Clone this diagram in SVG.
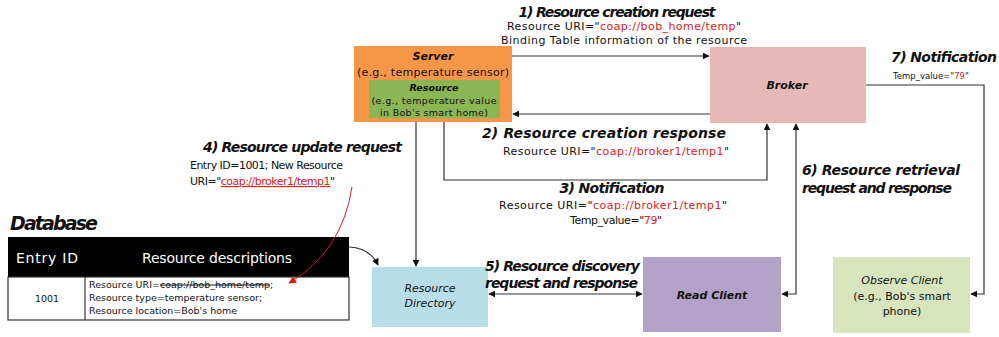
<svg xmlns="http://www.w3.org/2000/svg" width="999" height="337" viewBox="0 0 999 337">
<style>
text{font-family:"DejaVu Sans","Liberation Sans",sans-serif;fill:#111}
.h{font-weight:bold;font-style:italic;font-size:14px}
.t{font-size:11px}
.s{font-size:9.5px}
.bi{font-weight:bold;font-style:italic;font-size:11px}
.i{font-style:italic;font-size:11px}
.r{fill:#e02020}
.c{fill:none;stroke:#333;stroke-width:1.2}
</style>
<defs>
<marker id="a" viewBox="0 0 10 10" refX="9" refY="5" markerWidth="7" markerHeight="7" orient="auto-start-reverse" markerUnits="userSpaceOnUse"><path d="M0,0 L10,5 L0,10 z" fill="#111"/></marker>
<marker id="ar" viewBox="0 0 10 10" refX="9" refY="5" markerWidth="8" markerHeight="8" orient="auto" markerUnits="userSpaceOnUse"><path d="M0,0 L10,5 L0,10 z" fill="#e02020"/></marker>
</defs>

<g id="server">
<rect x="354" y="46" width="158" height="76" fill="#f79646"/>
<text class="bi" x="433" y="60" text-anchor="middle">Server</text>
<text class="t" x="433" y="76" text-anchor="middle" textLength="152">(e.g., temperature sensor)</text>
<g id="resource">
<rect x="369" y="80" width="131" height="38" fill="#8cb553"/>
<text class="bi" x="434" y="91" text-anchor="middle" style="font-size:9.5px">Resource</text>
<text class="s" x="434" y="104" text-anchor="middle" textLength="125">(e.g., temperature value</text>
<text class="s" x="434" y="116" text-anchor="middle" textLength="108">in Bob's smart home)</text>
</g>
</g>

<g id="broker">
<rect x="710" y="47" width="156" height="76" fill="#e6b9b8"/>
<text class="bi" x="787" y="89" text-anchor="middle">Broker</text>
</g>

<g id="resource-directory">
<rect x="372" y="267" width="116" height="60" fill="#b7dde8"/>
<text class="i" x="430" y="292" text-anchor="middle">Resource</text>
<text class="i" x="430" y="307" text-anchor="middle">Directory</text>
</g>

<g id="read-client">
<rect x="643" y="257" width="138" height="75" fill="#b3a2c7"/>
<text class="bi" x="712" y="299" text-anchor="middle">Read Client</text>
</g>

<g id="observe-client">
<rect x="833" y="257" width="137" height="76" fill="#d7e4bd"/>
<text class="i" x="902" y="284" text-anchor="middle">Observe Client</text>
<text class="t" x="902" y="300" text-anchor="middle">(e.g., Bob's smart</text>
<text class="t" x="902" y="315" text-anchor="middle">phone)</text>
</g>

<g id="database">
<text x="10" y="230" style="font-weight:bold;font-style:italic;font-size:19px" textLength="88">Database</text>
<rect x="8" y="237" width="341" height="40" fill="#000"/>
<rect x="8" y="277" width="341" height="43" fill="#fff" stroke="#333" stroke-width="1.2"/>
<line x1="85" y1="277" x2="85" y2="320" stroke="#333" stroke-width="1.2"/>
<text x="47" y="263" text-anchor="middle" style="fill:#fff;font-size:14px" textLength="62">Entry ID</text>
<text x="217" y="263" text-anchor="middle" style="fill:#fff;font-size:14px" textLength="150">Resource descriptions</text>
<text class="s" x="47" y="302" text-anchor="middle">1001</text>
<text class="s" x="89" y="288">Resource URI=<tspan text-decoration="line-through">coap://bob_home/temp</tspan>;</text>
<text class="s" x="89" y="301">Resource type=temperature sensor;</text>
<text class="s" x="89" y="314">Resource location=Bob's home</text>
</g>

<g id="connectors">
<path class="c" d="M512,56 H709" marker-end="url(#a)"/>
<path class="c" d="M710,114 H513" marker-end="url(#a)"/>
<path class="c" d="M444,122 V180 H767 V124" marker-end="url(#a)"/>
<path class="c" d="M416,122 V266" marker-end="url(#a)"/>
<path class="c" d="M489,294 H642" marker-start="url(#a)" marker-end="url(#a)"/>
<path class="c" d="M782,294 H796 V124" marker-start="url(#a)" marker-end="url(#a)"/>
<path class="c" d="M866,85 H984 V294 H971" marker-end="url(#a)"/>
<path class="c" d="M349,247 Q370,248 378,265" marker-end="url(#a)"/>
<path d="M352,187 Q342,252 289,283" fill="none" stroke="#d02020" stroke-width="1" marker-end="url(#ar)"/>
</g>

<g id="labels">
<text class="h" x="617" y="17" text-anchor="middle" textLength="197">1) Resource creation request</text>
<text class="t" x="624" y="30" text-anchor="middle" textLength="234">Resource URI="<tspan class="r">coap://bob_home/temp</tspan>"</text>
<text class="t" x="624" y="44" text-anchor="middle" textLength="246">Binding Table information of the resource</text>

<text class="h" x="604" y="138" text-anchor="middle" textLength="244">2) Resource creation response</text>
<text class="t" x="616" y="155" text-anchor="middle" textLength="226">Resource URI="<tspan class="r">coap://broker1/temp1</tspan>"</text>

<text class="h" x="612" y="193" text-anchor="middle" textLength="105">3) Notification</text>
<text class="t" x="613" y="209" text-anchor="middle" textLength="228">Resource URI="<tspan class="r">coap://broker1/temp1</tspan>"</text>
<text class="t" x="616" y="224" text-anchor="middle" textLength="92">Temp_value="<tspan class="r">79</tspan>"</text>

<text class="h" x="203" y="152" textLength="199">4) Resource update request</text>
<text class="t" x="190" y="169" textLength="153">Entry ID=1001; New Resource</text>
<text class="t" x="190" y="185" textLength="145">URI="<tspan class="r" text-decoration="underline">coap://broker1/temp1</tspan>"</text>

<text class="h" x="485" y="271" textLength="155">5) Resource discovery</text>
<text class="h" x="485" y="288" textLength="153">request and response</text>

<text class="h" x="802" y="175" textLength="158">6) Resource retrieval</text>
<text class="h" x="802" y="193" textLength="150">request and response</text>

<text class="h" x="891" y="62" textLength="106">7) Notification</text>
<text x="893" y="79" style="font-size:8.5px">Temp_value="<tspan class="r">79</tspan>"</text>
</g>
</svg>
